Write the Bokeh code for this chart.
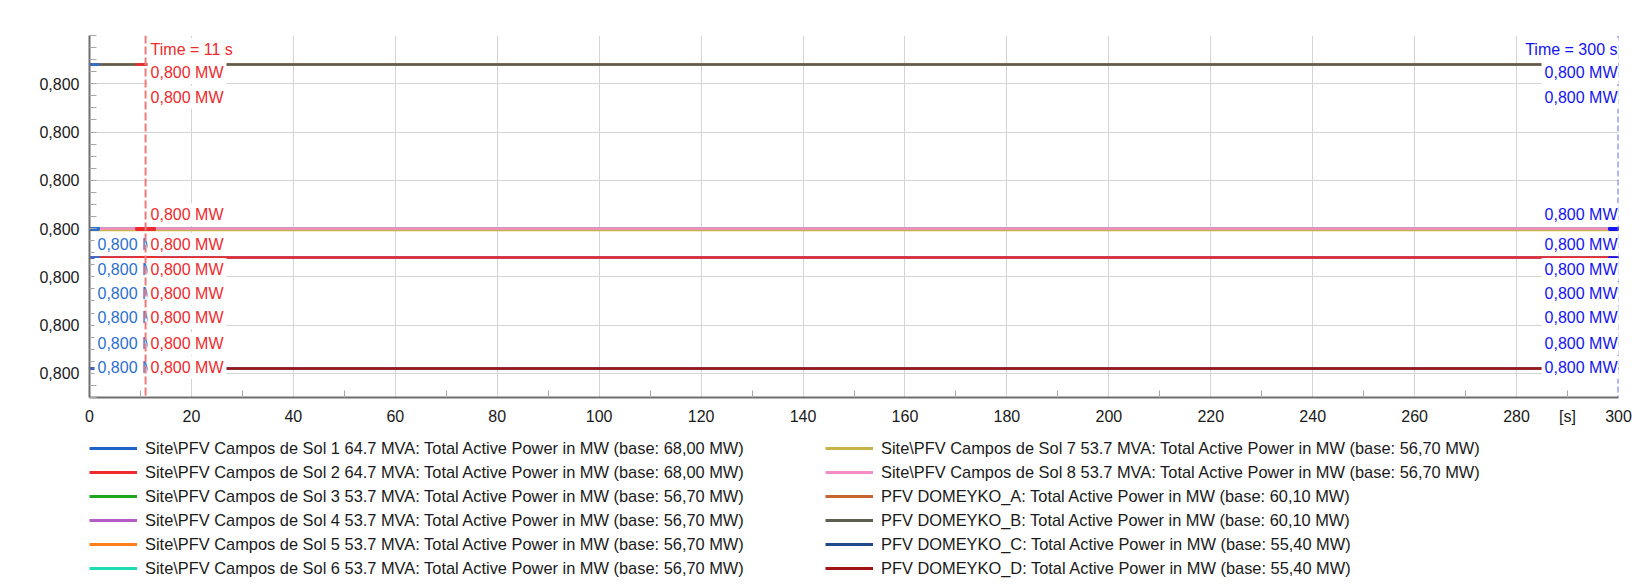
from bokeh.plotting import figure
from bokeh.layouts import column
from bokeh.models import (FixedTicker, CustomJSTickFormatter, Span, Label,
                          Legend, LegendItem)
from bokeh.embed import file_html
from bokeh.resources import INLINE

# ---------------- data ----------------
time_s = [0, 300]
series_names = [
    "Site\\PFV Campos de Sol 1 64.7 MVA: Total Active Power in MW (base: 68,00 MW)",
    "Site\\PFV Campos de Sol 2 64.7 MVA: Total Active Power in MW (base: 68,00 MW)",
    "Site\\PFV Campos de Sol 3 53.7 MVA: Total Active Power in MW (base: 56,70 MW)",
    "Site\\PFV Campos de Sol 4 53.7 MVA: Total Active Power in MW (base: 56,70 MW)",
    "Site\\PFV Campos de Sol 5 53.7 MVA: Total Active Power in MW (base: 56,70 MW)",
    "Site\\PFV Campos de Sol 6 53.7 MVA: Total Active Power in MW (base: 56,70 MW)",
    "Site\\PFV Campos de Sol 7 53.7 MVA: Total Active Power in MW (base: 56,70 MW)",
    "Site\\PFV Campos de Sol 8 53.7 MVA: Total Active Power in MW (base: 56,70 MW)",
    "PFV DOMEYKO_A: Total Active Power in MW (base: 60,10 MW)",
    "PFV DOMEYKO_B: Total Active Power in MW (base: 60,10 MW)",
    "PFV DOMEYKO_C: Total Active Power in MW (base: 55,40 MW)",
    "PFV DOMEYKO_D: Total Active Power in MW (base: 55,40 MW)",
]
series_values = [0.79994, 0.79994, 0.80000, 0.80000, 0.80000, 0.80000,
                 0.799997, 0.80000, 0.80034, 0.80034, 0.79971, 0.79971]
series_colors = ["#1f63c6", "#ee2a2e", "#1fa51f", "#b45cc6", "#ff7f1a", "#20dcb4",
                 "#c8b24a", "#f58cc8", "#c86432", "#5c5f50", "#1e4a8c", "#a01414"]

x_ticks = list(range(0, 301, 20))
x_minor_ticks = list(range(10, 300, 20))
x_unit_tick = 290
x_unit_label = "[s]"
y_ticks = [0.7997, 0.7998, 0.7999, 0.8000, 0.8001, 0.8002, 0.8003]
y_minor_ticks = [0.79965 + 0.000025 * i for i in range(31)]

red_cursor_time = 11
blue_cursor_time = 300
left_cursor_time = 0
# series shown in the cursor boxes (top to bottom)
cursor_rows = [8, 9, 7, 0, 1, 2, 3, 10, 11]
left_cursor_rows = [0, 1, 2, 3, 10, 11]

# ---------------- layout ----------------
Y0, Y1 = 0.79965, 0.80040
FRAME_TOP, FRAME_BOTTOM = 35, 397
FONT = "Liberation Sans"


def py_to_y(py):
    return Y1 - (py - FRAME_TOP) / (FRAME_BOTTOM - FRAME_TOP) * (Y1 - Y0)


row_px = [72, 97, 214, 244, 269, 293, 317, 343, 367]
left_row_px = [244, 269, 293, 317, 343, 367]
time_px = 49


def fmt(v):
    return f"{v:.3f}".replace(".", ",") + " MW"


p = figure(width=1640, height=430, x_range=(0, 300), y_range=(Y0, Y1),
           output_backend="svg", toolbar_location=None,
           min_border_left=89, min_border_right=22,
           min_border_top=35, min_border_bottom=33)
p.outline_line_color = None
p.background_fill_color = "white"

p.xaxis.ticker = FixedTicker(ticks=sorted(x_ticks + [x_unit_tick]), minor_ticks=x_minor_ticks)
p.xaxis.major_label_overrides = {x_unit_tick: x_unit_label}
p.xgrid.ticker = FixedTicker(ticks=x_ticks)
p.yaxis.ticker = FixedTicker(ticks=y_ticks, minor_ticks=y_minor_ticks)
p.yaxis.formatter = CustomJSTickFormatter(code="return tick.toFixed(3).replace('.', ',');")
for ax in (p.xaxis[0], p.yaxis[0]):
    ax.axis_line_color = "#6e6e6e"
    ax.axis_line_width = 2
    ax.major_tick_in = 0
    ax.major_tick_out = 0
    ax.minor_tick_in = 7
    ax.minor_tick_out = 0
    ax.minor_tick_line_color = "#a8a8a8"
    ax.major_label_text_font = FONT
    ax.major_label_text_font_size = "16px"
    ax.major_label_text_color = "#1a1a1a"
    ax.major_label_standoff = 10
p.xgrid.grid_line_color = "#d4d4d4"
p.ygrid.grid_line_color = "#d4d4d4"

for name, v, c in zip(series_names, series_values, series_colors):
    p.line(time_s, [v, v], line_color=c, line_width=2.5)

# cursor markers
p.scatter([left_cursor_time] * len(series_values), series_values, marker="dash",
          size=20, line_color="#2d6fd0", line_width=2)
p.scatter([red_cursor_time] * len(series_values), series_values, marker="dash",
          size=20, line_color="#ee2a2e", line_width=2)
p.scatter([blue_cursor_time] * len(series_values), series_values, marker="dash",
          size=20, line_color="#1414f0", line_width=2)

# left (blue) cursor labels
for i, py in zip(left_cursor_rows, left_row_px):
    p.add_layout(Label(x=left_cursor_time, y=py_to_y(py), x_offset=5, text=fmt(series_values[i]),
                       text_font=FONT, text_font_size="16px", text_color="#2d6fd0",
                       text_align="left", text_baseline="middle",
                       background_fill_color="white", padding=3))

# red cursor
p.add_layout(Span(location=red_cursor_time, dimension="height", line_color="#f07a7a",
                  line_width=2, line_dash="8 3"))
p.add_layout(Label(x=red_cursor_time, y=py_to_y(time_px), x_offset=2,
                   text=f"Time = {red_cursor_time} s",
                   text_font=FONT, text_font_size="16px", text_color="#ee2a2e",
                   text_align="left", text_baseline="middle",
                   background_fill_color="white", padding=3))
for i, py in zip(cursor_rows, row_px):
    p.add_layout(Label(x=red_cursor_time, y=py_to_y(py), x_offset=2, text=fmt(series_values[i]),
                       text_font=FONT, text_font_size="16px", text_color="#ee2a2e",
                       text_align="left", text_baseline="middle",
                       background_fill_color="white", padding=3))

# blue cursor
p.add_layout(Span(location=blue_cursor_time, dimension="height", line_color="#6a6af2",
                  line_width=2, line_dash="6 3"))
p.add_layout(Label(x=blue_cursor_time, y=py_to_y(time_px), x_offset=2,
                   text=f"Time = {blue_cursor_time} s",
                   text_font=FONT, text_font_size="16px", text_color="#1414f0",
                   text_align="right", text_baseline="middle",
                   background_fill_color="white", padding=3))
for i, py in zip(cursor_rows, row_px):
    p.add_layout(Label(x=blue_cursor_time, y=py_to_y(py), x_offset=2, text=fmt(series_values[i]),
                       text_font=FONT, text_font_size="16px", text_color="#1414f0",
                       text_align="right", text_baseline="middle",
                       background_fill_color="white", padding=3))

# ---------------- legend panel ----------------
q = figure(width=1640, height=154, x_range=(0, 300), y_range=(10, 11),
           output_backend="svg", toolbar_location=None,
           min_border_left=0, min_border_right=0, min_border_top=0, min_border_bottom=0)
q.axis.visible = False
q.grid.visible = False
q.outline_line_color = None
leg_renderers = [q.line(time_s, [v, v], line_color=c, line_width=3)
                 for v, c in zip(series_values, series_colors)]
items = [LegendItem(label=n, renderers=[r]) for n, r in zip(series_names, leg_renderers)]
for chunk, xloc in ((items[:6], 0), (items[6:], 736)):
    leg = Legend(items=chunk, location=(xloc, 6), orientation="vertical",
                 border_line_color=None, background_fill_alpha=0, padding=0, margin=0,
                 glyph_width=48, glyph_height=20, label_height=20, spacing=4,
                 label_standoff=8, label_text_font=FONT,
                 label_text_font_size="16.4px", label_text_color="#1a1a1a")
    q.add_layout(leg, "center")

open("out.html", "w").write(file_html(column(p, q, spacing=0), INLINE))
